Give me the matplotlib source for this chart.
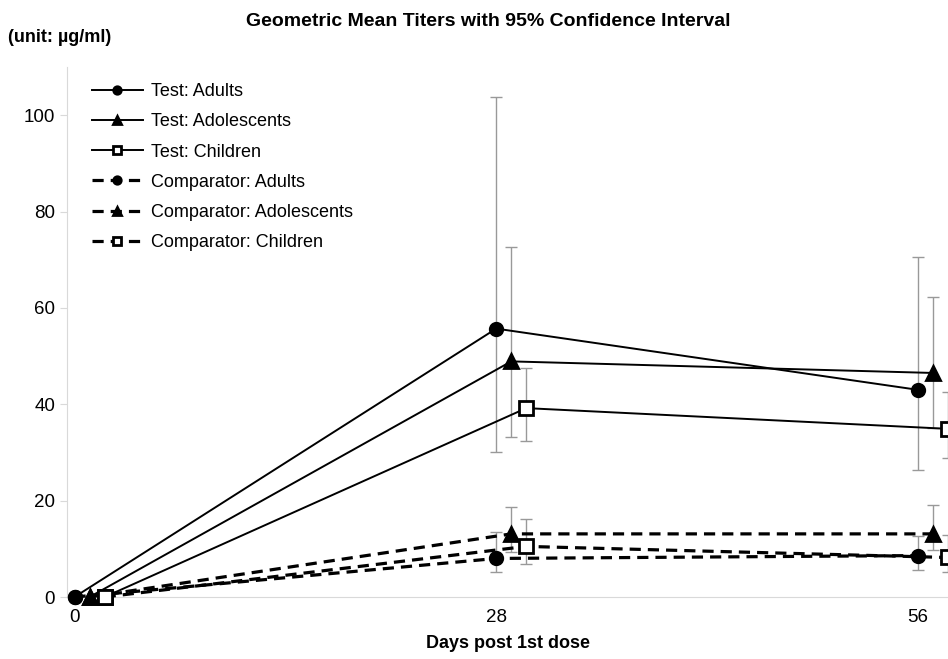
import matplotlib
matplotlib.use("Agg")
import matplotlib.pyplot as plt
import numpy as np

plt.rcParams['font.family'] = ['Liberation Sans', 'DejaVu Sans']

days = [0, 28, 56]
groups = ["Adults", "Adolescents", "Children"]
offsets = [0, 1, 2]  # small shift per group so the markers do not overlap

test_gmt = {
    "Adults": [0, 55.7, 43.0],
    "Adolescents": [0, 48.9, 46.5],
    "Children": [0, 39.2, 34.9],
}
test_lo = {
    "Adults": [0, 30.0, 26.4],
    "Adolescents": [0, 33.3, 35.0],
    "Children": [0, 32.3, 28.8],
}
test_hi = {
    "Adults": [0, 103.8, 70.5],
    "Adolescents": [0, 72.6, 62.2],
    "Children": [0, 47.5, 42.5],
}
comp_gmt = {
    "Adults": [0, 8.0, 8.6],
    "Adolescents": [0, 13.1, 13.1],
    "Children": [0, 10.5, 8.2],
}
comp_lo = {
    "Adults": [0, 5.1, 5.6],
    "Adolescents": [0, 9.4, 9.8],
    "Children": [0, 6.8, 5.1],
}
comp_hi = {
    "Adults": [0, 13.5, 12.7],
    "Adolescents": [0, 18.6, 19.0],
    "Children": [0, 16.2, 12.8],
}

markers = {"Adults": "o", "Adolescents": "^", "Children": "s"}
faces = {"Adults": "black", "Adolescents": "black", "Children": "white"}
msizes = {"Adults": 9, "Adolescents": 10, "Children": 10}

fig = plt.figure(figsize=(9.48, 6.59), dpi=100)
ax = fig.add_axes([67/948, 62/659, 881/948, 530/659])

def draw(gmt, lo, hi, ls, lw, prefix):
    for i, g in enumerate(groups):
        x = np.array(days) + offsets[i]
        y = np.array(gmt[g])
        err = [y - np.array(lo[g]), np.array(hi[g]) - y]
        ax.errorbar(x, y, yerr=err, fmt='none', ecolor='#999999', elinewidth=1,
                    capsize=4, capthick=1, zorder=2)
        ax.plot(x, y, color='black', linestyle=ls, linewidth=lw, marker=markers[g],
                markersize=msizes[g], markerfacecolor=faces[g], markeredgecolor='black',
                markeredgewidth=2, label=prefix + ": " + g, zorder=3, clip_on=False)

draw(test_gmt, test_lo, test_hi, '-', 1.4, "Test")
draw(comp_gmt, comp_lo, comp_hi, (0, (3.5, 2.2)), 2.3, "Comparator")

ax.set_xlim(-0.5, 58)
ax.set_ylim(0, 110)
ax.set_xticks(days)
ax.set_yticks([0, 20, 40, 60, 80, 100])
ax.tick_params(axis='both', labelsize=13.5, colors='#d9d9d9', labelcolor='black', length=5)
ax.tick_params(axis='x', length=0, pad=9)
for s in ['top', 'right']:
    ax.spines[s].set_visible(False)
for s in ['left', 'bottom']:
    ax.spines[s].set_color('#d9d9d9')
ax.set_xlabel("Days post 1st dose", fontsize=13, fontweight='bold', labelpad=6)

leg = ax.legend(loc='upper left', bbox_to_anchor=(0.01, 1.0), frameon=False, fontsize=13,
                handlelength=2.8, labelspacing=0.73, markerscale=0.6, handletextpad=0.45)

fig.text(0.515, 0.967, "Geometric Mean Titers with 95% Confidence Interval", ha='center',
         va='center', fontsize=14, fontweight='bold')
fig.text(0.008, 0.943, "(unit: µg/ml)", ha='left', va='center', fontsize=13, fontweight='bold')

fig.savefig("out.png", dpi=100)
